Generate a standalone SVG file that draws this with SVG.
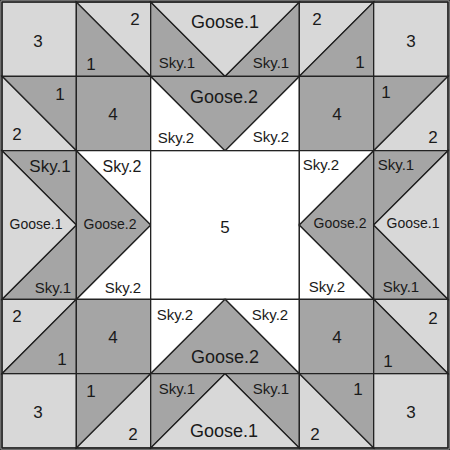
<svg xmlns="http://www.w3.org/2000/svg" width="450" height="450" viewBox="0 0 450 450">
<style>
.l{fill:#d8d8d8}
.d{fill:#a5a5a5}
.w{fill:#ffffff}
polygon,rect{stroke:#222;stroke-width:1.3;stroke-linejoin:miter}
text{font-family:"Liberation Sans",Arial,sans-serif;fill:#1a1a1a;text-anchor:middle}
.n{font-size:17px}
.g{font-size:18px}
.gs{font-size:14px}
.s{font-size:15px}
</style>
<rect x="0" y="0" width="450" height="450" fill="#ffffff" stroke="none"/>
<!-- Row 0 -->
<g id="c00"><rect class="l" x="2" y="2" width="74.33" height="74.33"/><text class="n" x="38" y="47">3</text></g>
<g id="c10"><polygon class="d" points="76.33,2 150.67,76.33 76.33,76.33"/><polygon class="l" points="76.33,2 150.67,2 150.67,76.33"/><text class="n" x="135" y="25">2</text><text class="n" x="91" y="70">1</text></g>
<g id="topGoose1"><polygon class="d" points="150.67,2 225,76.33 150.67,76.33"/><polygon class="d" points="299.33,2 299.33,76.33 225,76.33"/><polygon class="l" points="150.67,2 299.33,2 225,76.33"/><text class="g" x="225" y="28">Goose.1</text><text class="s" x="177" y="68">Sky.1</text><text class="s" x="271" y="68">Sky.1</text></g>
<g id="c40"><polygon class="l" points="299.33,2 373.67,2 299.33,76.33"/><polygon class="d" points="373.67,2 373.67,76.33 299.33,76.33"/><text class="n" x="317" y="25">2</text><text class="n" x="360" y="68">1</text></g>
<g id="c50"><rect class="l" x="373.67" y="2" width="74.33" height="74.33"/><text class="n" x="411" y="47">3</text></g>
<!-- Row 1 -->
<g id="c01"><polygon class="d" points="2,76.33 76.33,76.33 76.33,150.67"/><polygon class="l" points="2,76.33 76.33,150.67 2,150.67"/><text class="n" x="60" y="100">1</text><text class="n" x="17" y="140">2</text></g>
<g id="c11"><rect class="d" x="76.33" y="76.33" width="74.33" height="74.33"/><text class="n" x="113" y="120">4</text></g>
<g id="topGoose2"><polygon class="w" points="150.67,76.33 225,150.67 150.67,150.67"/><polygon class="w" points="299.33,76.33 299.33,150.67 225,150.67"/><polygon class="d" points="150.67,76.33 299.33,76.33 225,150.67"/><text class="g" x="224" y="103">Goose.2</text><text class="s" x="176" y="143">Sky.2</text><text class="s" x="271" y="142">Sky.2</text></g>
<g id="c41"><rect class="d" x="299.33" y="76.33" width="74.33" height="74.33"/><text class="n" x="337" y="120">4</text></g>
<g id="c51"><polygon class="d" points="373.67,76.33 448,76.33 373.67,150.67"/><polygon class="l" points="448,76.33 448,150.67 373.67,150.67"/><text class="n" x="386" y="98">1</text><text class="n" x="433" y="143">2</text></g>
<!-- Rows 2-3 -->
<g id="leftGoose1"><polygon class="d" points="2,150.67 76.33,150.67 76.33,225"/><polygon class="d" points="76.33,225 76.33,299.33 2,299.33"/><polygon class="l" points="2,150.67 76.33,225 2,299.33"/><text class="s" x="50" y="172" style="font-size:17px">Sky.1</text><text class="gs" x="36" y="229">Goose.1</text><text class="s" x="53" y="293">Sky.1</text></g>
<g id="leftGoose2"><polygon class="w" points="76.33,150.67 150.67,150.67 150.67,225"/><polygon class="w" points="150.67,225 150.67,299.33 76.33,299.33"/><polygon class="d" points="76.33,150.67 150.67,225 76.33,299.33"/><text class="s" x="122" y="172" style="font-size:16px">Sky.2</text><text class="gs" x="110" y="229">Goose.2</text><text class="s" x="123" y="293">Sky.2</text></g>
<g id="center5"><rect class="w" x="150.67" y="150.67" width="148.67" height="148.67"/><text class="n" x="225" y="233">5</text></g>
<g id="rightGoose2"><polygon class="w" points="299.33,150.67 373.67,150.67 299.33,225"/><polygon class="w" points="299.33,225 373.67,299.33 299.33,299.33"/><polygon class="d" points="373.67,150.67 373.67,299.33 299.33,225"/><text class="s" x="321" y="170">Sky.2</text><text class="gs" x="340" y="228">Goose.2</text><text class="s" x="327" y="292">Sky.2</text></g>
<g id="rightGoose1"><polygon class="d" points="373.67,150.67 448,150.67 373.67,225"/><polygon class="d" points="373.67,225 448,299.33 373.67,299.33"/><polygon class="l" points="448,150.67 448,299.33 373.67,225"/><text class="s" x="396" y="170">Sky.1</text><text class="gs" x="413" y="228">Goose.1</text><text class="s" x="401" y="292">Sky.1</text></g>
<!-- Row 4 -->
<g id="c04"><polygon class="l" points="2,299.33 76.33,299.33 2,373.67"/><polygon class="d" points="76.33,299.33 76.33,373.67 2,373.67"/><text class="n" x="17" y="322">2</text><text class="n" x="62" y="365">1</text></g>
<g id="c14"><rect class="d" x="76.33" y="299.33" width="74.33" height="74.33"/><text class="n" x="113" y="343">4</text></g>
<g id="bottomGoose2"><polygon class="w" points="150.67,299.33 225,299.33 150.67,373.67"/><polygon class="w" points="225,299.33 299.33,299.33 299.33,373.67"/><polygon class="d" points="225,299.33 299.33,373.67 150.67,373.67"/><text class="s" x="175" y="320">Sky.2</text><text class="s" x="270" y="320">Sky.2</text><text class="g" x="225" y="363">Goose.2</text></g>
<g id="c44"><rect class="d" x="299.33" y="299.33" width="74.33" height="74.33"/><text class="n" x="337" y="343">4</text></g>
<g id="c54"><polygon class="l" points="373.67,299.33 448,299.33 448,373.67"/><polygon class="d" points="373.67,299.33 448,373.67 373.67,373.67"/><text class="n" x="433" y="324">2</text><text class="n" x="388" y="367">1</text></g>
<!-- Row 5 -->
<g id="c05"><rect class="l" x="2" y="373.67" width="74.33" height="74.33"/><text class="n" x="38" y="418">3</text></g>
<g id="c15"><polygon class="d" points="76.33,373.67 150.67,373.67 76.33,448"/><polygon class="l" points="150.67,373.67 150.67,448 76.33,448"/><text class="n" x="91" y="397">1</text><text class="n" x="133" y="440">2</text></g>
<g id="bottomGoose1"><polygon class="d" points="150.67,373.67 225,373.67 150.67,448"/><polygon class="d" points="225,373.67 299.33,373.67 299.33,448"/><polygon class="l" points="225,373.67 299.33,448 150.67,448"/><text class="s" x="177" y="394">Sky.1</text><text class="s" x="271" y="394">Sky.1</text><text class="g" x="224" y="437">Goose.1</text></g>
<g id="c45"><polygon class="d" points="299.33,373.67 373.67,373.67 373.67,448"/><polygon class="l" points="299.33,373.67 373.67,448 299.33,448"/><text class="n" x="358" y="395">1</text><text class="n" x="315" y="440">2</text></g>
<g id="c55"><rect class="l" x="373.67" y="373.67" width="74.33" height="74.33"/><text class="n" x="411" y="418">3</text></g>
<rect x="2" y="2" width="446" height="446" fill="none" stroke="#222" stroke-width="1.6"/>
</svg>
